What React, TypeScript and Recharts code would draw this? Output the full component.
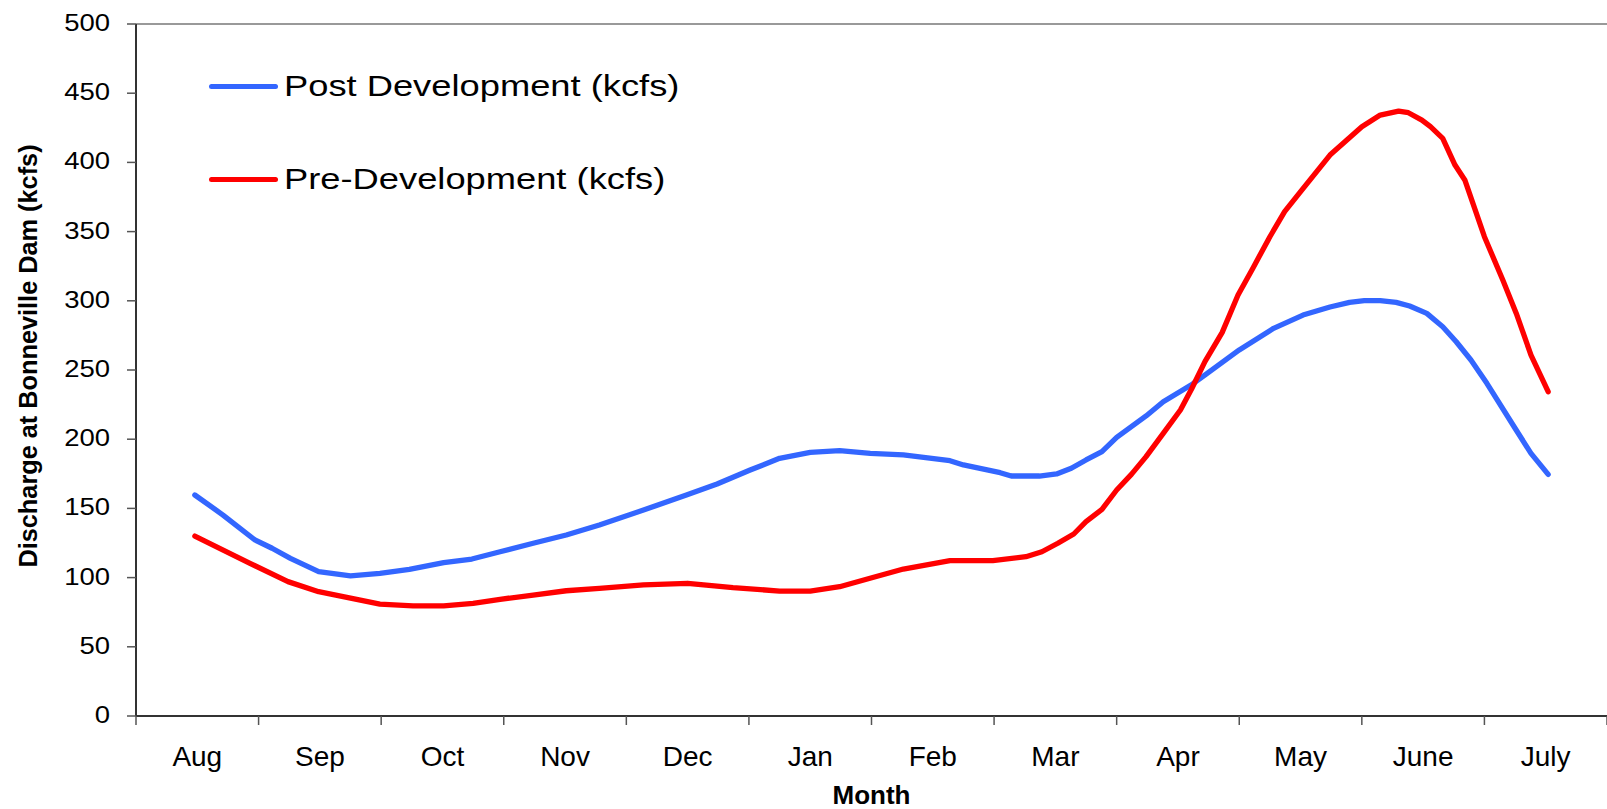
import { LineChart, Line, XAxis, YAxis, ReferenceLine, Legend, Label } from "recharts";

// month position: 0 = start of Aug, 12 = end of July
const monthLabels = ["Aug", "Sep", "Oct", "Nov", "Dec", "Jan", "Feb", "Mar", "Apr", "May", "June", "July"];
const monthTicks = [0, 1, 2, 3, 4, 5, 6, 7, 8, 9, 10, 11, 12];
const yTicks = [0, 50, 100, 150, 200, 250, 300, 350, 400, 450, 500];

const postMonths = [
  0.48, 0.71, 0.97, 1.11, 1.26, 1.49, 1.75, 1.99, 2.23, 2.51, 2.74, 2.97, 3.24, 3.51, 3.78,
  4.14, 4.49, 4.74, 5.01, 5.25, 5.5, 5.74, 5.99, 6.26, 6.64, 6.75, 7.05, 7.14, 7.37, 7.51,
  7.63, 7.75, 7.88, 8.0, 8.24, 8.38, 8.62, 8.73, 9.0, 9.28, 9.52, 9.74, 9.9, 10.02, 10.15,
  10.28, 10.39, 10.53, 10.66, 10.77, 10.89, 11.02, 11.25, 11.38, 11.52,
];
const postValues = [
  159.7, 145.2, 127.2, 121.2, 113.9, 104.3, 101.2, 103.1, 105.9, 110.8, 113.4, 118.7, 124.8, 130.8, 138,
  148.8, 159.7, 167.6, 177.7, 186.2, 190.5, 191.7, 189.8, 188.6, 184.5, 181.4, 175.8, 173.4, 173.4, 174.9,
  179, 185, 191, 201.3, 216.8, 227.1, 239.9, 247.1, 264.5, 280.1, 289.7, 295.5, 298.9, 300.1, 300.1,
  298.9, 296.2, 290.9, 281.3, 270.4, 257.2, 240.4, 207.9, 189.8, 174.6,
];

const preMonths = [
  0.48, 0.93, 1.24, 1.49, 1.99, 2.26, 2.51, 2.75, 2.97, 3.24, 3.51, 3.78, 4.14, 4.5, 4.87,
  5.25, 5.5, 5.74, 6.01, 6.26, 6.64, 6.99, 7.26, 7.39, 7.52, 7.65, 7.75, 7.88, 8.0, 8.12,
  8.24, 8.38, 8.52, 8.61, 8.72, 8.86, 8.99, 9.11, 9.25, 9.37, 9.51, 9.74, 10.0, 10.15, 10.3,
  10.38, 10.49, 10.56, 10.66, 10.76, 10.84, 11.0, 11.15, 11.26, 11.38, 11.52,
];
const preValues = [
  130, 110.3, 97.1, 89.8, 80.9, 79.5, 79.5, 81.4, 84.3, 87.4, 90.5, 92.2, 94.7, 95.9, 92.7,
  90.3, 90.3, 93.4, 100.1, 106.2, 112.2, 112.2, 115.1, 118.7, 124.8, 131.5, 140.4, 149.3, 163.3, 174.6,
  187.4, 204.2, 221.1, 236.1, 256, 277, 304.2, 323.4, 346.3, 364.4, 380, 405.3, 425.8, 434.2, 437.1,
  435.9, 430.6, 425.8, 417.4, 398.1, 387.3, 346.3, 315, 290.9, 260.8, 234.3,
];

const postData = postMonths.map((m, i) => ({ m, v: postValues[i] }));
const preData = preMonths.map((m, i) => ({ m, v: preValues[i] }));

const BLUE = "#3366ff";
const RED = "#ff0000";
const FONT = "'Liberation Sans', Arial, sans-serif";

const W = 1607;
const H = 809;
const Y_AXIS_W = 136;
const HALF_MONTH = (W - Y_AXIS_W) / 24;

const YTick = ({ x, y, payload }: any) => (
  <text
    transform={`translate(${x},${y + 7}) scale(1.17,1)`}
    textAnchor="end"
    fontSize={23.5}
    fontFamily={FONT}
    fill="#000"
  >
    {payload.value}
  </text>
);

const XTick = ({ x, y, payload }: any) => {
  const label = monthLabels[payload.value];
  if (!label) return <g />;
  return (
    <text x={x + HALF_MONTH} y={y + 41} textAnchor="middle" fontSize={28} fontFamily={FONT} fill="#000">
      {label}
    </text>
  );
};

const YTitle = ({ viewBox }: any) => {
  const cx = viewBox.x + 37;
  const cy = viewBox.y + 332;
  return (
    <text
      x={cx}
      y={cy}
      transform={`rotate(-90, ${cx}, ${cy})`}
      textAnchor="middle"
      fontSize={25.3}
      fontWeight="bold"
      fontFamily={FONT}
      fill="#000"
    >
      Discharge at Bonneville Dam (kcfs)
    </text>
  );
};

const XTitle = ({ viewBox }: any) => (
  <text
    x={viewBox.x + viewBox.width / 2}
    y={viewBox.y + 88}
    textAnchor="middle"
    fontSize={26}
    fontWeight="bold"
    fontFamily={FONT}
    fill="#000"
  >
    Month
  </text>
);

const legendItems = [
  { name: "Post Development (kcfs)", color: BLUE, top: 86 },
  { name: "Pre-Development (kcfs)", color: RED, top: 179 },
];

const renderLegend = () => (
  <div style={{ position: "relative" }}>
    {legendItems.map((it) => (
      <div
        key={it.name}
        style={{
          position: "absolute",
          left: 209,
          top: it.top - 20,
          height: 40,
          display: "flex",
          alignItems: "center",
          whiteSpace: "nowrap",
        }}
      >
        <div style={{ width: 69, height: 5, borderRadius: 3, background: it.color }} />
        <span
          style={{
            marginLeft: 6,
            fontSize: 30,
            lineHeight: 1,
            fontFamily: FONT,
            color: "#000",
            display: "inline-block",
            transform: "scaleX(1.21)",
            transformOrigin: "left center",
          }}
        >
          {it.name}
        </span>
      </div>
    ))}
  </div>
);

export default function App() {
  return (
    <div style={{ position: "absolute", left: 0, top: 0, width: W, height: H, overflow: "hidden", background: "#fff" }}>
      <LineChart width={W} height={H} margin={{ top: 24, right: 0, bottom: 0, left: 0 }}>
        <XAxis
          dataKey="m"
          type="number"
          domain={[0, 12]}
          ticks={monthTicks}
          interval={0}
          height={93}
          tickSize={9}
          tickMargin={0}
          tick={XTick}
          stroke="#333"
          strokeWidth={2}
          tickLine={{ stroke: "#555", strokeWidth: 1.5 }}
        >
          <Label content={XTitle} />
        </XAxis>
        <YAxis
          type="number"
          domain={[0, 500]}
          ticks={yTicks}
          interval={0}
          width={Y_AXIS_W}
          tickSize={9}
          tickMargin={17}
          tick={YTick}
          stroke="#333"
          strokeWidth={2}
          tickLine={{ stroke: "#555", strokeWidth: 1.5 }}
        >
          <Label content={YTitle} />
        </YAxis>
        <ReferenceLine y={500} stroke="#999" strokeWidth={2} />
        <Legend
          layout="vertical"
          verticalAlign="middle"
          align="center"
          wrapperStyle={{ position: "absolute", left: 0, top: 0, width: 1, height: 1, overflow: "visible" }}
          content={renderLegend}
        />
        <Line
          data={postData}
          dataKey="v"
          name="Post Development (kcfs)"
          type="linear"
          stroke={BLUE}
          strokeWidth={5.3}
          strokeLinecap="round"
          strokeLinejoin="round"
          dot={false}
          activeDot={false}
          isAnimationActive={false}
        />
        <Line
          data={preData}
          dataKey="v"
          name="Pre-Development (kcfs)"
          type="linear"
          stroke={RED}
          strokeWidth={5.3}
          strokeLinecap="round"
          strokeLinejoin="round"
          dot={false}
          activeDot={false}
          isAnimationActive={false}
        />
      </LineChart>
    </div>
  );
}
